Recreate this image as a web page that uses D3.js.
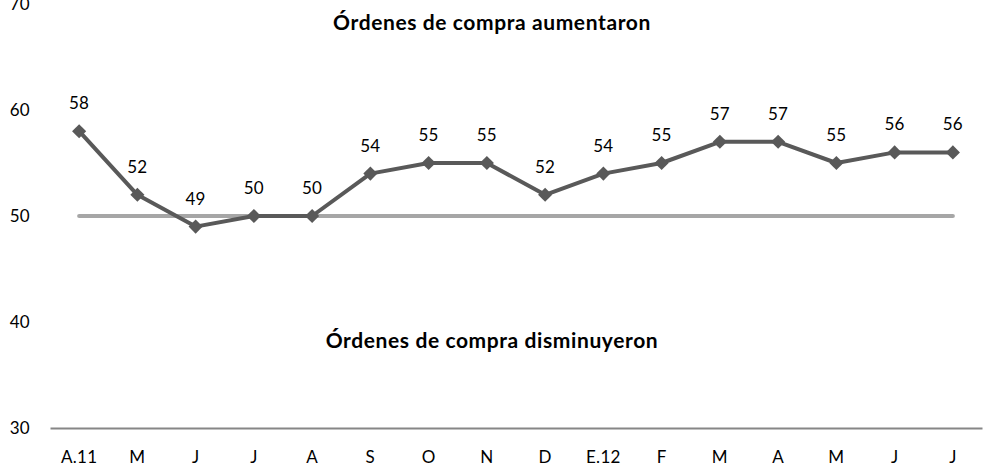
<!doctype html>
<html>
<head>
<meta charset="utf-8">
<script src="https://cdnjs.cloudflare.com/ajax/libs/d3/7.8.5/d3.min.js"></script>
<style>
    body { margin: 0; background: #fff; }
    svg text { font-family: Lato, "Open Sans", sans-serif; fill: #000; }
    .axis text { font-size: 17px; font-family: Lato, sans-serif; letter-spacing: 0.3px; }
    .axis .domain { stroke: #868686; stroke-width: 2; }
    .axis .tick line { visibility: hidden; }
    .note { font-size: 21px; font-weight: bold; letter-spacing: 0.6px; }
    .val { font-size: 17px; letter-spacing: 0.3px; }
</style>
</head>
<body>
<div id="chart"></div>
<script>
var categories = ["A.11", "M", "J", "J", "A", "S", "O", "N", "D", "E.12", "F", "M", "A", "M", "J", "J"];
var values = [58, 52, 49, 50, 50, 54, 55, 55, 52, 54, 55, 57, 57, 55, 56, 56];
var yTicks = [30, 40, 50, 60, 70];
var threshold = 50;
var notes = [
    { text: "Órdenes de compra aumentaron", v: 67.55 },
    { text: "Órdenes de compra disminuyeron", v: 37.55 }
];

var W = 984, H = 468;
var margin = { top: 4, right: 2, bottom: 40, left: 50 };
var width = W - margin.left - margin.right,
    height = H - margin.top - margin.bottom;

var svg = d3.select("#chart").append("svg")
    .attr("width", W)
    .attr("height", H);

var g = svg.append("g")
    .attr("transform", "translate(" + margin.left + "," + margin.top + ")");

// Scales
var idx = categories.map(function(d, i) { return i; });
var x = d3.scaleBand().domain(idx).range([0, width]);
var y = d3.scaleLinear().domain([30, 70]).range([height, 0]);
var cx = function(i) { return x(i) + x.bandwidth() / 2; };

// X axis
var xAxis = g.append("g")
    .attr("class", "axis")
    .attr("transform", "translate(0," + height + ")")
    .call(d3.axisBottom(x).tickSize(0).tickSizeOuter(0)
        .tickFormat(function(i) { return categories[i]; }));
xAxis.selectAll("text").attr("y", 35).attr("dy", 0);

// Y labels (no axis line)
g.selectAll(".ylab")
    .data(yTicks)
    .enter().append("text")
    .attr("class", "val")
    .attr("x", -20)
    .attr("y", function(d) { return y(d); })
    .attr("dy", "0.35em")
    .attr("text-anchor", "end")
    .text(function(d) { return d; });

// Threshold line
g.append("line")
    .attr("x1", cx(0))
    .attr("x2", cx(categories.length - 1))
    .attr("y1", y(threshold))
    .attr("y2", y(threshold))
    .attr("stroke", "#a6a6a6")
    .attr("stroke-width", 4)
    .attr("stroke-linecap", "round");

// Notes
g.selectAll(".note")
    .data(notes)
    .enter().append("text")
    .attr("class", "note")
    .attr("x", width / 2 - 24)
    .attr("y", function(d) { return y(d.v); })
    .attr("text-anchor", "middle")
    .text(function(d) { return d.text; });

// Series line
var line = d3.line()
    .x(function(d, i) { return cx(i); })
    .y(function(d) { return y(d); });

g.append("path")
    .datum(values)
    .attr("fill", "none")
    .attr("stroke", "#595959")
    .attr("stroke-width", 4)
    .attr("stroke-linejoin", "round")
    .attr("d", line);

// Diamond markers
g.selectAll(".pt")
    .data(values)
    .enter().append("path")
    .attr("class", "pt")
    .attr("d", d3.symbol().type(d3.symbolSquare).size(100))
    .attr("transform", function(d, i) { return "translate(" + cx(i) + "," + y(d) + ") rotate(45)"; })
    .attr("fill", "#595959");

// Value labels
g.selectAll(".lbl")
    .data(values)
    .enter().append("text")
    .attr("class", "val")
    .attr("x", function(d, i) { return cx(i); })
    .attr("y", function(d) { return y(d) - 22; })
    .attr("text-anchor", "middle")
    .text(function(d) { return d; });
</script>
</body>
</html>
